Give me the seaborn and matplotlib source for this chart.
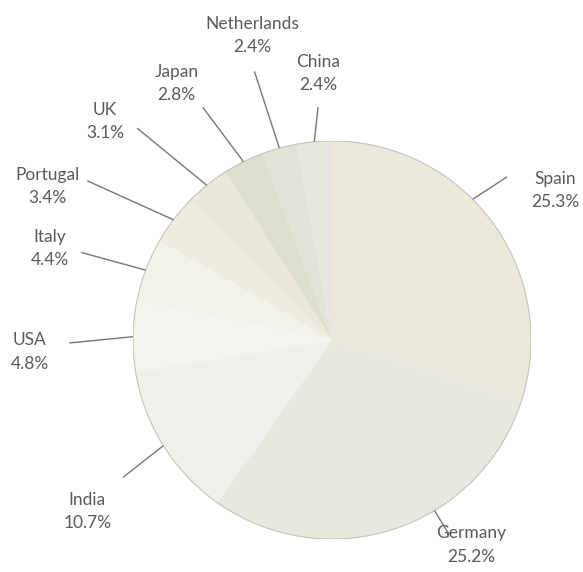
import numpy as np
import matplotlib
matplotlib.use("Agg")
import matplotlib.pyplot as plt
import seaborn as sns

# Share of the market by country (percent)
countries = ["Spain", "Germany", "India", "USA", "Italy",
             "Portugal", "UK", "Japan", "Netherlands", "China"]
shares = [25.3, 25.2, 10.7, 4.8, 4.4, 3.4, 3.1, 2.8, 2.4, 2.4]

# Soft beige / stone tones for the wedges
wedge_colors = ["#ece8db", "#e8e8e0", "#f0f0ea", "#f4f4ef", "#f3f2ea",
                "#eeebdf", "#ebe8da", "#dedecf", "#e2e2d6", "#e7e7e0"]

# Label placement (data units around a unit-radius pie) and leader start points
label_pos = {
    "Spain": (1.12, 0.75), "Germany": (0.70, -1.03), "India": (-1.23, -0.86),
    "USA": (-1.52, -0.06), "Italy": (-1.42, 0.46), "Portugal": (-1.43, 0.77),
    "UK": (-1.14, 1.10), "Japan": (-0.78, 1.29), "Netherlands": (-0.40, 1.53),
    "China": (-0.07, 1.34),
}
leader_start = {
    "Spain": (0.88, 0.82), "Germany": (0.59, -0.98), "India": (-1.05, -0.69),
    "USA": (-1.32, -0.015), "Italy": (-1.26, 0.44), "Portugal": (-1.23, 0.80),
    "UK": (-0.98, 1.065), "Japan": (-0.65, 1.17), "Netherlands": (-0.39, 1.35),
    "China": (-0.07, 1.17),
}
# Leaders that do not point at the wedge middle (clockwise degrees from 12 o'clock)
anchor_override = {"Spain": 45.0, "Germany": 149.0}

sns.set_theme(style="white")
plt.rcParams["font.family"] = ["Lato", "DejaVu Sans"]

W, H = 583, 572
fig = plt.figure(figsize=(W / 100, H / 100), dpi=100)
cx, cy, r = 332, 340, 199
ax = fig.add_axes([(cx - r) / W, (H - cy - r) / H, 2 * r / W, 2 * r / H])

wedges, _ = ax.pie(shares, colors=wedge_colors, startangle=90,
                   counterclock=False, radius=1.0,
                   wedgeprops=dict(linewidth=0))
ax.add_patch(plt.Circle((0, 0), 1.0, fill=False, edgecolor="#c4c4ba",
                        linewidth=0.8))
ax.set_xlim(-1, 1)
ax.set_ylim(-1, 1)
ax.set_aspect("equal")
ax.axis("off")

total = sum(shares)
cum = 0.0
for name, val in zip(countries, shares):
    mid = (cum + val / 2) / total * 360.0
    cum += val
    ang = np.deg2rad(anchor_override.get(name, mid))
    ex, ey = np.sin(ang), np.cos(ang)
    sx, sy = leader_start[name]
    ax.plot([sx, ex], [sy, ey], color="#777777", linewidth=1.0,
            clip_on=False, solid_capstyle="butt")
    lx, ly = label_pos[name]
    ax.text(lx, ly, f"{name}\n{val:.1f}%", ha="center", va="center",
            fontsize=12.5, color="#5a5a5a", linespacing=1.55, clip_on=False)

fig.savefig("out.png", dpi=100, facecolor="white")
